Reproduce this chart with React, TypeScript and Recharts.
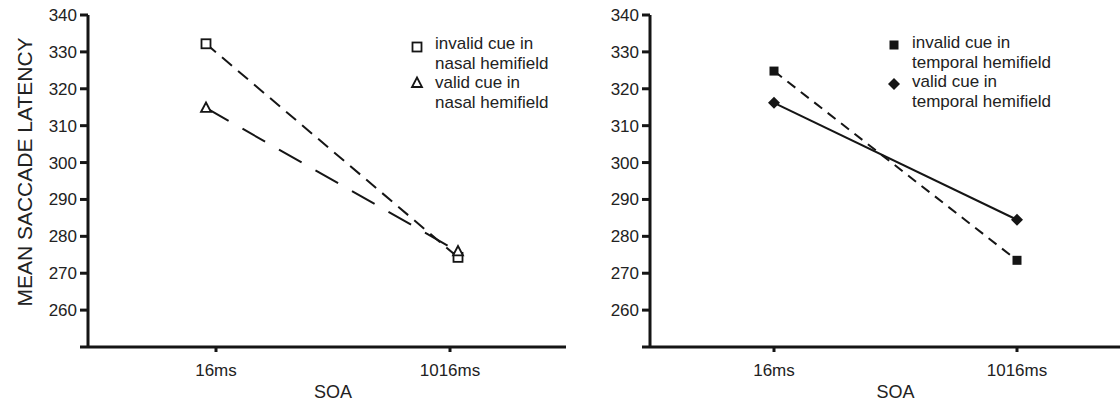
import React from 'react';
import { LineChart, Line, XAxis, YAxis, Legend } from 'recharts';

const soaLabels = ['16ms', '1016ms'];
const invalidNasal = [332.2, 274.3];
const validNasal = [314.8, 275.9];
const invalidTemporal = [324.8, 273.5];
const validTemporal = [316.2, 284.5];
const yTicks = [250, 260, 270, 280, 290, 300, 310, 320, 330, 340];

const nasalData = soaLabels.map((soa, i) => ({ soa, invalid: invalidNasal[i], valid: validNasal[i] }));
const temporalData = soaLabels.map((soa, i) => ({ soa, invalid: invalidTemporal[i], valid: validTemporal[i] }));

const INK = '#151515';
const TXT = '#222';
const FONT = '"Liberation Sans", Arial, Helvetica, sans-serif';

const OpenSquare = (p: any) => (
  <rect key={p.key} x={p.cx - 4.5} y={p.cy - 4.5} width={9} height={9} fill="#fff" stroke={INK} strokeWidth={1.8} />
);
const OpenTriangle = (p: any) => (
  <polygon key={p.key} points={`${p.cx},${p.cy - 5.5} ${p.cx + 5},${p.cy + 4} ${p.cx - 5},${p.cy + 4}`} fill="#fff" stroke={INK} strokeWidth={1.8} />
);
const FilledSquare = (p: any) => (
  <rect key={p.key} x={p.cx - 4.5} y={p.cy - 4.5} width={9} height={9} fill={INK} stroke="none" />
);
const Diamond = (p: any) => (
  <polygon key={p.key} points={`${p.cx},${p.cy - 6} ${p.cx + 6},${p.cy} ${p.cx},${p.cy + 6} ${p.cx - 6},${p.cy}`} fill={INK} />
);

const YTitle = (props: any) => {
  const vb = props.viewBox || { x: 0, y: 15, width: 88, height: 332 };
  const x = vb.x + 24;
  const y = vb.y + vb.height / 2 - 9;
  return (
    <text x={x} y={y} transform={`rotate(-90 ${x} ${y})`} textAnchor="middle" dominantBaseline="central"
      fill={TXT} fontSize={21} fontFamily={FONT}>MEAN SACCADE LATENCY</text>
  );
};

const makeXTitle = (padL: number, padR: number) => (props: any) => {
  const vb = props.viewBox || { x: 0, y: 0, width: 0, height: 0 };
  const x = vb.x + padL + (vb.width - padL - padR) / 2;
  const y = vb.y + 51;
  return (
    <text x={x} y={y} textAnchor="middle" fill={TXT} fontSize={18} fontFamily={FONT}>SOA</text>
  );
};

const LegendBlock = ({ items }: { items: { marker: React.ReactNode; lines: string[] }[] }) => (
  <div style={{ fontFamily: FONT, fontSize: 17, color: TXT, lineHeight: '19.5px' }}>
    {items.map((it, i) => (
      <div key={i} style={{ display: 'flex', alignItems: 'flex-start' }}>
        <svg width={20} height={20} style={{ flex: 'none' }}>{it.marker}</svg>
        <div style={{ marginLeft: 6 }}>
          {it.lines.map((l, j) => <div key={j}>{l}</div>)}
        </div>
      </div>
    ))}
  </div>
);

const nasalLegend = [
  { marker: <OpenSquare cx={8} cy={13} />, lines: ['invalid cue in', 'nasal hemifield'] },
  { marker: <OpenTriangle cx={8} cy={10} />, lines: ['valid cue in', 'nasal hemifield'] },
];
const temporalLegend = [
  { marker: <FilledSquare cx={8} cy={12} />, lines: ['invalid cue in', 'temporal hemifield'] },
  { marker: <Diamond cx={8} cy={12} />, lines: ['valid cue in', 'temporal hemifield'] },
];

const axisCommon = {
  stroke: INK,
  tickLine: { stroke: INK, strokeWidth: 3 },
  axisLine: { stroke: INK, strokeWidth: 3 },
};

const yAxisProps = (width: number) => ({
  ...axisCommon,
  type: 'number' as const,
  domain: [250, 340],
  ticks: yTicks,
  interval: 0,
  width,
  tickSize: 8,
  tickMargin: 3,
  tick: { fill: TXT, fontSize: 17, fontFamily: FONT },
  tickFormatter: (v: number) => (v === 250 ? '' : String(v)),
});

export default function App() {
  return (
    <div style={{ position: 'absolute', left: 0, top: 0, width: 1120, height: 409, background: '#fff' }}>
      <div style={{ position: 'absolute', left: 0, top: 0 }}>
        <LineChart width={570} height={409} data={nasalData} margin={{ top: 15, right: 4, bottom: 32, left: 0 }}>
          <XAxis {...axisCommon} xAxisId="tick" dataKey="soa" padding={{ left: 128, right: 116 }}
            tickSize={5} tickMargin={12} tick={{ fill: TXT, fontSize: 17, fontFamily: FONT }}
            label={makeXTitle(128, 116) as any} />
          <XAxis xAxisId="pt" dataKey="soa" padding={{ left: 118, right: 108 }} hide height={0} />
          <YAxis {...yAxisProps(88)} label={<YTitle />} />
          <Legend layout="horizontal" verticalAlign="middle" align="center"
            content={() => <LegendBlock items={nasalLegend} />}
            wrapperStyle={{ position: 'absolute', left: 409, top: 34, width: 170 }} />
          <Line xAxisId="pt" dataKey="invalid" stroke={INK} strokeWidth={2} strokeDasharray="13 8"
            dot={OpenSquare} activeDot={false} isAnimationActive={false} />
          <Line xAxisId="pt" dataKey="valid" stroke={INK} strokeWidth={2} strokeDasharray="26 16"
            dot={OpenTriangle} activeDot={false} isAnimationActive={false} />
        </LineChart>
      </div>
      <div style={{ position: 'absolute', left: 570, top: 0 }}>
        <LineChart width={550} height={409} data={temporalData} margin={{ top: 15, right: 0, bottom: 32, left: 0 }}>
          <XAxis {...axisCommon} dataKey="soa" padding={{ left: 124, right: 103 }}
            tickSize={5} tickMargin={12} tick={{ fill: TXT, fontSize: 17, fontFamily: FONT }}
            label={makeXTitle(124, 103) as any} />
          <YAxis {...yAxisProps(80)} />
          <Legend layout="horizontal" verticalAlign="middle" align="center"
            content={() => <LegendBlock items={temporalLegend} />}
            wrapperStyle={{ position: 'absolute', left: 316, top: 33, width: 210 }} />
          <Line dataKey="invalid" stroke={INK} strokeWidth={2} strokeDasharray="10 7"
            dot={FilledSquare} activeDot={false} isAnimationActive={false} />
          <Line dataKey="valid" stroke={INK} strokeWidth={2}
            dot={Diamond} activeDot={false} isAnimationActive={false} />
        </LineChart>
      </div>
    </div>
  );
}
